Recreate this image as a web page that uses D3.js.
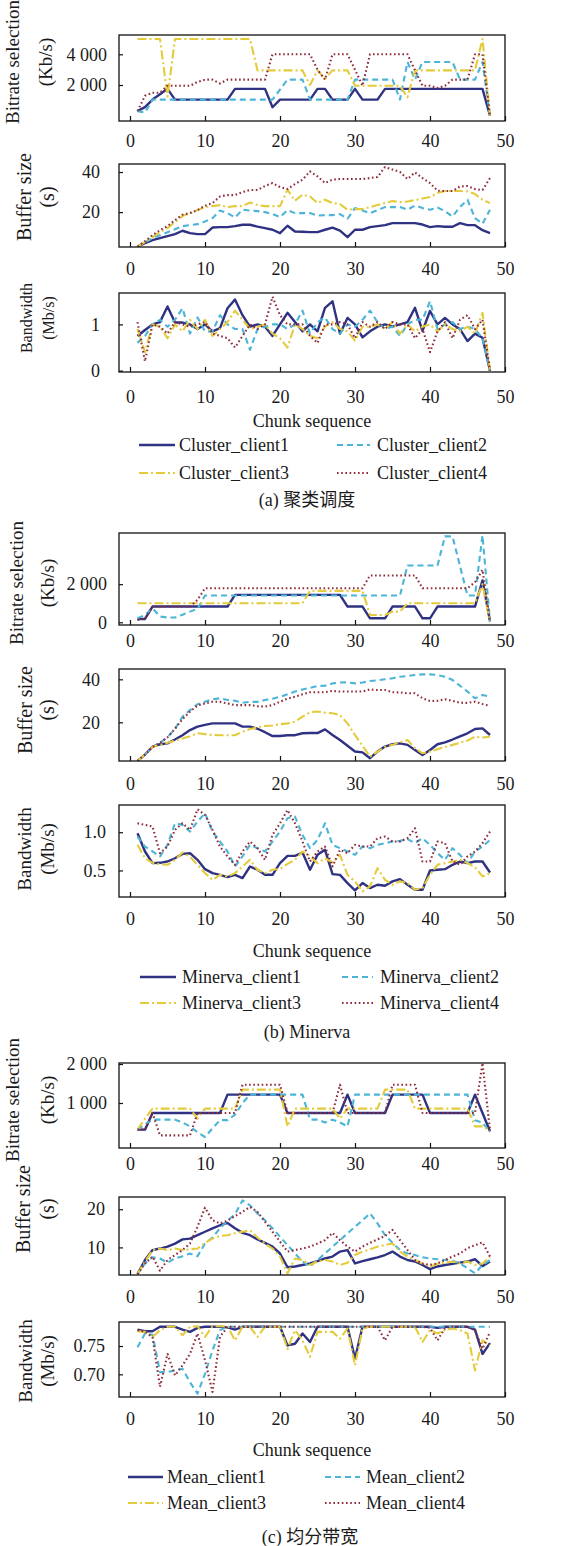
<!DOCTYPE html>
<html><head><meta charset="utf-8">
<script src="https://cdn.jsdelivr.net/npm/d3@7"></script>
<style>
html,body{margin:0;padding:0;background:#fff;}
svg{display:block;}
</style></head><body>
<svg id="chart" width="564" height="1546"></svg>
<script>
// Chunk index shared by every panel
const chunks = d3.range(1, 49);
const xTicks = [0, 10, 20, 30, 40, 50];

// ---------- (a) cluster scheduling ----------
const clusterBitrate1 = [300,560,1050,1400,1750,1050,1050,1050,1050,1050, 1050,1050,1050,1750,1750,1750,1750,1750,550,1050, 1050,1050,1050,1050,1750,1750,1050,1050,1050,1750, 1050,1050,1050,1750,1750,1750,1750,1750,1750,1750, 1750,1750,1750,1750,1750,1750,1750,0];
const clusterBitrate2 = [300,200,1050,1050,1050,1050,1050,1050,1050,1050, 1050,1050,1050,1050,1050,1050,1050,1050,1050,1700, 2350,2350,2350,1050,1050,1050,1050,1050,1050,2350, 2350,2350,2350,2350,2350,1050,3500,2350,3500,3500, 3500,3500,3500,2350,2350,2350,3500,0];
const clusterBitrate3 = [5000,5000,5000,5000,1250,5000,5000,5000,5000,5000, 5000,5000,5000,5000,5000,5000,2950,2950,2950,2950, 2950,2950,2950,2000,2950,2400,2950,2950,2950,1950, 1950,1950,1950,1950,1950,1950,1200,2950,2950,2950, 2950,2950,2950,2950,2950,2950,5000,0];
const clusterBitrate4 = [300,1300,1500,1500,1950,1950,1950,1950,2200,2350, 2350,2100,2350,2350,2350,2350,2350,2350,4000,4000, 4000,4000,4000,4000,3000,2350,4000,4000,4000,3000, 1950,4000,4000,4000,4000,4000,4000,2950,1950,1950, 1800,1950,2350,2350,2350,4000,4000,0];

const clusterBuffer1 = [2.8,4.5,6,7,8,9,10.7,9.5,9,9, 12.3,12.5,12.5,13,13.7,13.7,12.8,12,11.2,9.5, 13.2,10.3,10.2,10,10,11.2,12.3,10.8,7.5,11.2, 11.2,12.5,13,13.5,14.5,14.5,14.5,14.5,13.8,12.5, 13,12.7,12.7,14.5,13.5,13.5,11,9.5];
const clusterBuffer2 = [2.8,5,7,8.5,10,11.5,13,13.5,14,15.3, 17,20.8,19.5,17.3,21.2,20.8,20.5,20,19,17.5, 21,19.5,19.5,19.5,18.3,18.5,18.5,19,16.7,22, 20.8,19.5,21,22.5,22.5,22.5,21.2,23.3,22,21.2, 22.3,20.5,17.8,22.5,26.2,17,14.2,21.2];
const clusterBuffer3 = [2.8,5,7.5,10,12,15,18,19.5,21,22.5, 23,23.5,22.5,23,23,24.8,23.5,23,23,23, 31.2,25.7,28.7,27.8,24.5,26.2,24.5,24,21.2,21.5, 21.5,22.5,23.5,24.5,25.5,25,25.3,26,26.8,27.5, 29.5,30.5,30.5,30.5,30.3,29,26.2,24.5];
const clusterBuffer4 = [2.8,5.5,8.5,11,13,16,18.7,19.5,21,23.2, 24.5,27.8,28.5,28.5,30,31,31,33,34.5,32.5, 31.5,34,36.2,40.3,37.8,34.5,36.2,36.5,36.5,36.5, 36.5,37,37.5,42.5,41.2,40,36.5,39.8,37,34.5, 30.7,30.5,30.5,32.8,33,31.5,31,37];

const clusterBandwidth1 = [0.75,0.88,1.0,1.05,1.39,1.04,1.04,1.0,0.9,1.0, 0.85,0.92,1.35,1.54,1.2,0.95,1.0,0.95,0.75,1.0, 1.25,1.05,0.85,1.0,0.85,1.36,1.5,0.8,1.14,1.0, 0.72,0.85,0.95,1.0,0.95,1.0,1.05,1.36,0.86,1.29, 1.0,1.14,1.0,0.9,0.64,0.8,0.71,0.0];
const clusterBandwidth2 = [0.6,0.75,1.0,1.1,0.95,1.1,1.35,0.8,1.15,0.85, 0.85,1.2,1.0,0.9,0.9,0.45,0.9,0.95,1.0,1.0, 0.9,1.0,1.3,0.8,1.05,1.15,0.9,0.8,1.0,0.95, 1.1,1.3,1.05,0.9,0.95,0.75,1.0,1.1,1.1,1.5, 0.9,1.0,1.05,0.9,0.95,0.9,0.7,0.0];
const clusterBandwidth3 = [0.9,0.4,1.0,0.95,0.7,1.0,0.85,1.1,0.9,1.1, 0.75,0.9,1.05,1.3,1.1,0.9,0.95,1.0,0.8,0.7, 0.5,1.0,0.9,0.75,0.7,0.95,1.05,0.9,0.85,0.65, 0.95,0.95,1.0,0.9,1.05,0.8,1.0,0.85,0.95,1.0, 0.85,1.0,0.9,0.85,0.95,0.8,1.25,0.0];
const clusterBandwidth4 = [1.05,0.2,1.0,0.95,0.8,1.05,1.0,0.95,1.0,1.05, 0.8,0.75,0.7,0.5,0.75,1.0,0.9,1.0,1.6,1.2, 1.0,1.0,1.0,0.75,0.6,1.0,1.0,1.05,1.0,0.7, 1.05,0.95,1.05,0.9,1.05,1.0,1.0,0.7,0.9,0.4, 0.85,1.05,0.7,1.1,1.2,0.9,1.1,0.0];

// ---------- (b) Minerva ----------
const minervaBitrate1 = [175,175,825,825,825,825,825,825,825,825, 825,825,825,1440,1440,1440,1440,1440,1440,1440, 1440,1440,1440,1440,1440,1440,1440,1440,825,825, 825,210,210,210,825,825,825,825,210,210, 825,825,825,825,825,825,2200,50];
const minervaBitrate2 = [210,385,737,300,250,250,400,560,700,1403, 1403,1403,1403,1403,1403,1403,1403,1403,1403,1403, 1403,1403,1403,1403,1403,1403,1403,1403,1403,1403, 1403,1403,1403,1403,1403,1403,2982,2982,2982,2982, 2982,4508,4508,2950,1403,1403,4560,35];
const minervaBitrate3 = [1000,1000,1000,1000,1000,1000,1000,1000,1000,1000, 1000,1000,1000,1000,1000,1000,1000,1000,1000,1000, 1000,1000,1000,1650,1650,1650,1650,1650,1650,1650, 1650,385,385,385,560,560,1000,1000,1000,1000, 1000,1000,1000,1000,1000,1000,2000,0];
const minervaBitrate4 = [120,210,825,825,825,825,825,825,1175,1789, 1789,1789,1789,1789,1789,1789,1789,1789,1789,1789, 1789,1789,1789,1789,1789,1789,1789,1789,1789,1789, 1789,2456,2456,2456,2456,2456,2456,2456,1789,1789, 1789,1789,1789,1789,1789,2100,2754,35];

const minervaBuffer1 = [2,5,8.7,9.8,10.2,12,14,16.4,18,18.8, 19.5,19.5,19.5,19.5,18,18,17,15.4,13.6,13.6, 14,14,14.9,15,15,16.7,14.1,11.8,9.1,6.4, 6,3.3,6.4,8.7,9.8,10.2,9.5,7.1,4.8,7.1, 9.8,10.7,12,13.5,14.9,16.9,17.2,14.1];
const minervaBuffer2 = [2,5,8.5,10.5,13,17,22.6,25.7,28.4,29.6, 30.7,31.2,30.4,30,29.1,29.5,29.5,30.4,31,31.9, 33,34.3,35.3,36,36.9,37,38.1,38.5,38.6,38.1, 38.5,39.2,39.5,40,40.5,41.2,41.5,42,42.3,42.3, 42,41.2,39.7,37,34.3,31.2,32.7,31.9];
const minervaBuffer3 = [2,5,8.7,9.5,10.5,11.5,12.5,13.5,14.9,14.5, 14.1,14,14,14,15.6,16.9,17.5,18.3,18.5,19.1, 19.5,20.3,22.6,24.7,25,24.5,24.2,23.4,19.5,14.1, 9.1,4,6.4,8.5,9.5,10.7,11.8,7.9,5.6,6.4, 7.5,8.5,9.5,10.5,11.5,13.3,12.9,13.3];
const minervaBuffer4 = [2,5,8.5,10.5,13,17,21.5,25,27.8,28.8, 29.6,29.5,28.8,28,28,28,27.5,27.3,28,29.6, 31,31.9,33,34,34,34,34.6,34.3,34.3,34.3, 34.3,35.3,35,35,34,33.9,33.5,33.5,31.2,29.9, 30,30.7,30,29.1,29,29.6,28.5,27.6];

const minervaBandwidth1 = [0.987,0.748,0.596,0.6,0.617,0.66,0.717,0.726,0.639,0.517, 0.465,0.443,0.413,0.443,0.4,0.552,0.509,0.443,0.443,0.596, 0.691,0.691,0.735,0.509,0.704,0.77,0.452,0.443,0.335,0.239, 0.335,0.27,0.313,0.3,0.357,0.387,0.313,0.248,0.248,0.5, 0.509,0.517,0.574,0.617,0.596,0.617,0.617,0.474];
const minervaBandwidth2 = [0.943,0.813,0.748,0.683,0.835,1.117,1.096,1.009,1.139,1.248, 1.009,0.878,0.748,0.552,0.683,0.835,0.791,0.748,0.878,1.009, 1.183,1.204,0.965,0.791,0.9,1.117,0.835,0.791,0.748,0.704, 0.813,0.791,0.835,0.857,0.878,0.887,0.909,0.857,0.922,0.835, 0.726,0.639,0.791,0.704,0.596,0.748,0.813,0.9];
const minervaBandwidth3 = [0.835,0.66,0.6,0.58,0.574,0.639,0.735,0.68,0.574,0.465, 0.378,0.443,0.422,0.465,0.552,0.639,0.509,0.465,0.509,0.517, 0.587,0.639,0.748,0.683,0.596,0.66,0.604,0.704,0.443,0.357, 0.226,0.291,0.53,0.378,0.313,0.357,0.335,0.248,0.27,0.443, 0.574,0.596,0.617,0.639,0.596,0.543,0.422,0.465];
const minervaBandwidth4 = [1.117,1.096,1.074,0.726,0.813,1.03,1.117,1.03,1.3,1.226, 1.03,0.813,0.683,0.574,0.748,0.878,0.791,0.639,0.965,1.117, 1.291,1.117,0.878,0.617,0.748,0.813,0.552,0.77,0.726,0.835, 0.813,0.813,0.922,0.943,0.878,0.878,0.922,1.052,0.617,0.617, 0.878,0.857,0.617,0.574,0.683,0.748,0.857,1.009];

// ---------- (c) equal bandwidth share ----------
const meanBitrate1 = [316,316,744,744,744,744,744,744,744,744, 744,744,1214,1214,1214,1214,1214,1214,1214,1214, 744,744,744,744,744,744,744,744,1214,744, 744,744,744,744,1214,1214,1214,1214,1214,744, 744,744,744,744,744,1214,744,274];
const meanBitrate2 = [316,450,573,573,573,573,500,400,250,128, 350,560,560,700,1000,1214,1214,1214,1214,1214, 1214,1214,1214,573,573,500,573,500,400,1214, 1214,1214,1214,1214,1214,1214,1214,1214,1214,1214, 1214,1214,1214,1214,1214,560,500,250];
const meanBitrate3 = [316,600,855,855,855,855,855,855,600,855, 855,855,855,855,1342,1342,1342,1342,1342,1342, 400,855,855,855,855,855,855,600,855,855, 855,855,855,1342,1342,1342,1342,855,855,855, 855,855,855,855,855,400,400,300];
const meanBitrate4 = [316,316,744,170,170,170,170,170,744,744, 744,744,744,744,1470,1470,1470,1470,1470,1470, 744,744,744,744,744,744,744,1470,744,744, 744,744,744,744,1470,1470,1470,1470,744,744, 744,744,744,744,744,744,2025,300];

const meanBuffer1 = [3,6.7,9.3,9.7,10.2,11,12.1,12.3,13.2,14.1, 15,15.8,16.4,15,13.8,13.2,12.1,11.2,10.2,8.4, 4.8,5,5.4,5.8,6.4,7.1,7.6,8.9,9.3,5.8, 6.4,6.9,7.4,8,8.9,7.6,6.7,6.3,5.4,4.3, 5,5.4,5.7,6,6.3,6.9,5.1,6.3];
const meanBuffer2 = [3,5.8,7.4,7.1,6,7.1,7.7,8.4,7.7,11, 12.6,15,17,18.7,22.3,21,18.9,17.1,15,12.8, 10.6,8.4,6.3,5,6.7,8.4,10.2,11.9,13.7,15.4, 17.1,18.9,16.3,13.2,11.2,9.3,8.4,8,7.4,7.1, 6.9,6.7,6.5,5.8,4.5,3.2,5.4,6.7];
const meanBuffer3 = [3,6.3,9.3,9.7,9.3,9.7,9.3,9.5,9.7,11.2, 12.3,13,13.2,13.7,14.1,14.5,12.6,11,9.7,7.6, 3.2,7.1,6.7,5.4,6.3,6.7,6.3,5.4,6,8, 8.9,9.5,10.2,10.6,11,8.9,7.6,6.7,5.8,5, 5.7,6,6.3,5.8,6.3,5.4,5.8,7.6];
const meanBuffer4 = [3,5.8,7.6,3.9,6.7,8,9.3,11,15.4,20.4, 17.1,16.3,17,18.2,19.3,20.6,19.3,16.7,14.1,11.5, 8.9,9.3,9.7,10.2,11,11.9,13.8,11.9,10.2,8.9, 10.2,11.2,12.1,13,14.6,11.9,9.3,6.7,5.8,5.4, 5.8,6.7,7.6,8.4,9.8,10.6,11.3,7.6];

const meanBandwidth1 = [0.779,0.776,0.776,0.784,0.784,0.784,0.779,0.775,0.782,0.784, 0.784,0.784,0.783,0.779,0.784,0.784,0.784,0.784,0.784,0.784, 0.751,0.754,0.772,0.757,0.784,0.784,0.784,0.784,0.784,0.728, 0.784,0.784,0.784,0.784,0.784,0.784,0.784,0.784,0.784,0.784, 0.782,0.784,0.784,0.784,0.784,0.779,0.736,0.755];
const meanBandwidth2 = [0.748,0.772,0.77,0.704,0.704,0.707,0.71,0.686,0.666,0.701, 0.742,0.778,0.784,0.784,0.784,0.784,0.784,0.784,0.784,0.784, 0.784,0.784,0.784,0.784,0.784,0.784,0.784,0.784,0.784,0.784, 0.784,0.784,0.784,0.784,0.784,0.784,0.784,0.784,0.784,0.784, 0.784,0.784,0.784,0.784,0.784,0.784,0.784,0.784];
const meanBandwidth3 = [0.776,0.775,0.766,0.778,0.784,0.784,0.769,0.784,0.785,0.766, 0.785,0.785,0.785,0.76,0.784,0.784,0.766,0.784,0.784,0.784, 0.745,0.778,0.76,0.731,0.775,0.775,0.775,0.763,0.781,0.716, 0.781,0.784,0.784,0.784,0.784,0.784,0.784,0.784,0.757,0.778, 0.772,0.778,0.781,0.778,0.772,0.707,0.76,0.751];
const meanBandwidth4 = [0.778,0.775,0.766,0.678,0.736,0.698,0.716,0.736,0.772,0.725, 0.669,0.766,0.784,0.784,0.784,0.784,0.784,0.784,0.784,0.784, 0.784,0.784,0.784,0.784,0.784,0.784,0.784,0.784,0.784,0.784, 0.784,0.784,0.784,0.76,0.784,0.784,0.784,0.784,0.784,0.782, 0.76,0.782,0.784,0.784,0.784,0.778,0.745,0.775];

// Legend names and captions
const clusterNames = ["Cluster_client1", "Cluster_client2", "Cluster_client3", "Cluster_client4"];
const minervaNames = ["Minerva_client1", "Minerva_client2", "Minerva_client3", "Minerva_client4"];
const meanNames = ["Mean_client1", "Mean_client2", "Mean_client3", "Mean_client4"];
const captions = ["(a) 聚类调度", "(b) Minerva", "(c) 均分带宽"];
const xTitle = "Chunk sequence";

// ---------- styles ----------
const SERIF = '"Liberation Serif", "Times New Roman", Times, "Noto Sans CJK SC", serif';
const seriesStyles = [
  {color: "#2f3282", width: 2.4, dash: null},
  {color: "#4cb5d7", width: 2.1, dash: "6,4"},
  {color: "#e4cb3c", width: 2.1, dash: "9,3,2,3"},
  {color: "#8e2c3c", width: 2.1, dash: "1.6,2.6"}
];
const frameLeft = 119, frameRight = 505;
const TICK_FONT = 18, TEXT_FONT = 18;

const fmtKb = v => d3.format(",")(v).replace(/,/g, " ");
const bitrateTitle = ["Bitrate selection", "(Kb/s)"];
const bufferTitle = ["Buffer size", "(s)"];
const bandwidthTitle = ["Bandwidth", "(Mb/s)"];

const panels = [
  {top: 35, bottom: 121, domain: [-345, 5257], ticks: [2000, 4000], fmt: fmtKb, title: bitrateTitle, titleX: [12, 45], titleY: 62, titleSize: 19, tickRight: 107, xPad: 13,
   series: [clusterBitrate1, clusterBitrate2, clusterBitrate3, clusterBitrate4]},
  {top: 164, bottom: 247, domain: [2.6, 44], ticks: [20, 40], fmt: d3.format("d"), title: bufferTitle, titleX: [24, 47], titleY: 197, titleSize: 20, tickRight: 100, xPad: 15,
   series: [clusterBuffer1, clusterBuffer2, clusterBuffer3, clusterBuffer4]},
  {top: 293, bottom: 372, domain: [-0.03, 1.68], ticks: [0, 1], fmt: d3.format("d"), title: bandwidthTitle, titleX: [26, 48], titleY: 318, titleSize: 16, tickRight: 100, xPad: 18,
   series: [clusterBandwidth1, clusterBandwidth2, clusterBandwidth3, clusterBandwidth4]},

  {top: 533, bottom: 625, domain: [-142, 4684], ticks: [0, 2000], fmt: fmtKb, title: bitrateTitle, titleX: [16, 47], titleY: 583, titleSize: 19, tickRight: 107, xPad: 9,
   series: [minervaBitrate1, minervaBitrate2, minervaBitrate3, minervaBitrate4]},
  {top: 669, bottom: 761, domain: [2.0, 44.8], ticks: [20, 40], fmt: d3.format("d"), title: bufferTitle, titleX: [24.5, 47], titleY: 710, titleSize: 20, tickRight: 100, xPad: 16,
   series: [minervaBuffer1, minervaBuffer2, minervaBuffer3, minervaBuffer4]},
  {top: 805, bottom: 897, domain: [0.153, 1.356], ticks: [0.5, 1.0], fmt: d3.format(".1f"), title: bandwidthTitle, titleX: [24.5, 47], titleY: 849, titleSize: 19, tickRight: 106, xPad: 15,
   series: [minervaBandwidth1, minervaBandwidth2, minervaBandwidth3, minervaBandwidth4]},

  {top: 1063, bottom: 1148, domain: [-154, 2026], ticks: [1000, 2000], fmt: fmtKb, title: bitrateTitle, titleX: [12, 47], titleY: 1100, titleSize: 19, tickRight: 107, xPad: 9,
   series: [meanBitrate1, meanBitrate2, meanBitrate3, meanBitrate4]},
  {top: 1197, bottom: 1275, domain: [2.77, 23.2], ticks: [10, 20], fmt: d3.format("d"), title: bufferTitle, titleX: [23, 47], titleY: 1209, titleSize: 20, tickRight: 105, xPad: 15,
   series: [meanBuffer1, meanBuffer2, meanBuffer3, meanBuffer4]},
  {top: 1322, bottom: 1397, domain: [0.660, 0.7924], ticks: [0.70, 0.75], fmt: d3.format(".2f"), title: bandwidthTitle, titleX: [25, 47], titleY: 1361, titleSize: 19, tickRight: 105, xPad: 15,
   series: [meanBandwidth1, meanBandwidth2, meanBandwidth3, meanBandwidth4]}
];

const groups = [
  {names: clusterNames, caption: captions[0], xTitleY: 421, rows: [445, 473], col1: [139, 175, 179], col2: [337, 370, 377], captionX: 307, captionY: 500},
  {names: minervaNames, caption: captions[1], xTitleY: 951, rows: [977, 1003], col1: [140, 176, 182], col2: [342, 373, 380], captionX: 307, captionY: 1032},
  {names: meanNames, caption: captions[2], xTitleY: 1450, rows: [1477, 1503], col1: [128, 163, 167], col2: [325, 360, 366], captionX: 310, captionY: 1537}
];

const svg = d3.select("#chart").attr("font-family", SERIF);
const x = d3.scaleLinear().domain([0, 50]).range([130, 505]);

function applyStyle(sel, st) {
  sel.attr("fill", "none")
     .attr("stroke", st.color)
     .attr("stroke-width", st.width)
     .attr("stroke-linejoin", "round")
     .attr("stroke-dasharray", st.dash);
}
function serifText(sel, size) {
  sel.style("font-family", SERIF).attr("font-size", size).attr("fill", "#1a1a1a");
}

panels.forEach((p, pi) => {
  const y = d3.scaleLinear().domain(p.domain).range([p.bottom, p.top]);
  const g = svg.append("g");
  const clipId = "clip" + pi;
  svg.append("clipPath").attr("id", clipId)
    .append("rect").attr("x", frameLeft).attr("y", p.top)
    .attr("width", frameRight - frameLeft).attr("height", p.bottom - p.top);

  // series lines
  const line = d3.line().x((d, i) => x(chunks[i])).y(d => y(d));
  const lg = g.append("g").attr("clip-path", `url(#${clipId})`);
  p.series.forEach((vals, si) => {
    lg.append("path").datum(vals).attr("d", line).call(applyStyle, seriesStyles[si]);
  });

  // frame
  g.append("rect").attr("x", frameLeft).attr("y", p.top)
    .attr("width", frameRight - frameLeft).attr("height", p.bottom - p.top)
    .attr("fill", "none").attr("stroke", "#111").attr("stroke-width", 1.3);

  // y axis (ticks inward)
  const ya = g.append("g").attr("transform", `translate(${frameLeft},0)`)
    .call(d3.axisLeft(y).tickValues(p.ticks).tickFormat(p.fmt).tickSize(-4).tickPadding(frameLeft - p.tickRight));
  ya.attr("font-family", SERIF);
  ya.select(".domain").remove();
  ya.selectAll("text").call(serifText, TICK_FONT);
  ya.selectAll("line").attr("stroke", "#111").attr("stroke-width", 1.2);

  // x axis (ticks inward)
  const xa = g.append("g").attr("transform", `translate(0,${p.bottom})`)
    .call(d3.axisBottom(x).tickValues(xTicks).tickSize(-5).tickPadding(p.xPad));
  xa.attr("font-family", SERIF);
  xa.select(".domain").remove();
  xa.selectAll("text").call(serifText, TICK_FONT);
  xa.selectAll("line").attr("stroke", "#111").attr("stroke-width", 1.2);

  // rotated two-line axis title
  p.title.forEach((t, k) => {
    svg.append("text")
      .attr("transform", `translate(${p.titleX[k]},${p.titleY}) rotate(-90)`)
      .attr("text-anchor", "middle").attr("dy", "0.35em")
      .call(serifText, p.titleSize).text(t);
  });
});

groups.forEach(gr => {
  svg.append("text").attr("x", 312).attr("y", gr.xTitleY).attr("dy", "0.35em")
    .attr("text-anchor", "middle").call(serifText, TEXT_FONT).text(xTitle);

  gr.names.forEach((name, i) => {
    const col = i % 2 === 0 ? gr.col1 : gr.col2;
    const ry = gr.rows[Math.floor(i / 2)];
    svg.append("line").attr("x1", col[0]).attr("x2", col[1]).attr("y1", ry).attr("y2", ry)
      .call(applyStyle, seriesStyles[i]);
    svg.append("text").attr("x", col[2]).attr("y", ry).attr("dy", "0.35em")
      .call(serifText, TEXT_FONT).text(name);
  });

  svg.append("text").attr("x", gr.captionX).attr("y", gr.captionY).attr("dy", "0.35em")
    .attr("text-anchor", "middle").call(serifText, TEXT_FONT).text(gr.caption);
});
</script>
</body></html>
